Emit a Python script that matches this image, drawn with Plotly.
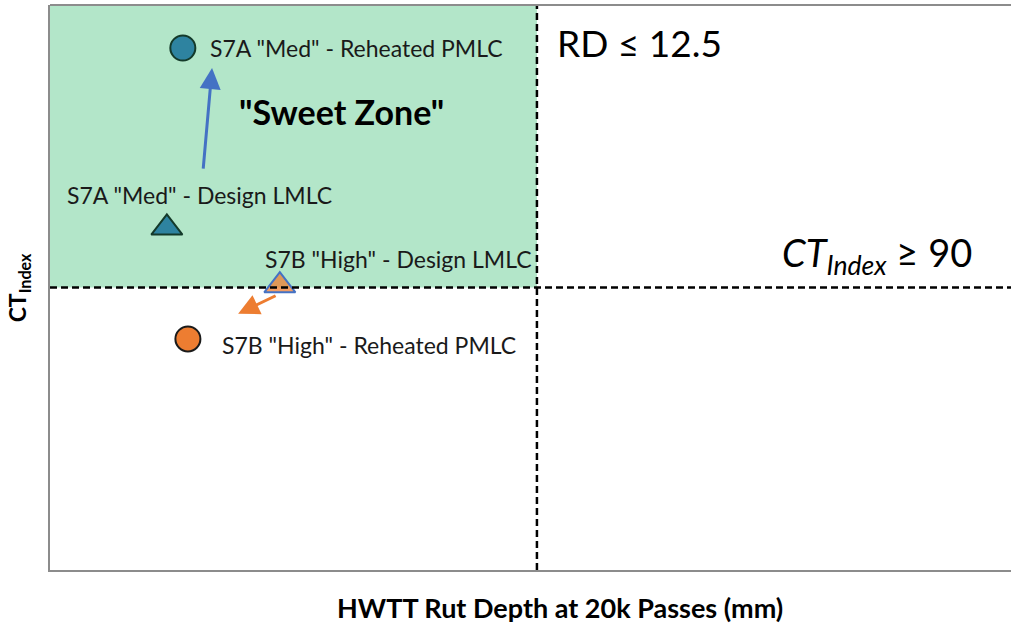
import plotly.graph_objects as go

# thresholds
rd_limit = 12.5
ct_limit = 90
x_range = [0, 24.67]
y_range = [0, 180]

# points
names = ['S7A "Med" - Reheated PMLC', 'S7A "Med" - Design LMLC',
         'S7B "High" - Design LMLC', 'S7B "High" - Reheated PMLC']
rut = [3.41, 3.0, 5.9, 3.54]
ct = [166.3, 109.0, 90.6, 73.6]
symbols = ['circle', 'triangle-up', 'triangle-up', 'circle']
fills = ['#2E83A0', '#2E83A0', 'rgba(237,125,49,0.75)', '#ED7D31']
edges = ['#143A2A', '#143A2A', '#4472C4', '#1A1A1A']

# label positions (text starts here)
label_x = [4.06, 0.39, 5.47, 4.36]
label_y = [166.3, 119.5, 99.1, 71.7]

# arrows: from design to reheated
arrow_tail_x = [3.93, 5.83]
arrow_tail_y = [127.4, 87.6]
arrow_head_x = [4.16, 4.83]
arrow_head_y = [159.9, 81.6]
arrow_colors = ['#4472C4', '#ED7D31']

fig = go.Figure()

fig.add_shape(type='rect', x0=x_range[0], x1=rd_limit, y0=ct_limit, y1=y_range[1],
              fillcolor='#B3E6C9', line_width=0, layer='below')
fig.add_shape(type='line', x0=rd_limit, x1=rd_limit, y0=y_range[0], y1=y_range[1],
              line=dict(color='black', width=2.5, dash='7px,4px'))
fig.add_shape(type='line', x0=x_range[0], x1=x_range[1], y0=ct_limit, y1=ct_limit,
              line=dict(color='black', width=2.5, dash='7px,4px'))
# top frame line only (no right border in the original)
fig.add_shape(type='line', xref='paper', yref='paper', x0=0, x1=1, y0=1, y1=1,
              line=dict(color='#8c8c8c', width=2))

for i in range(len(names)):
    fig.add_trace(go.Scatter(
        x=[rut[i]], y=[ct[i]], mode='markers', name=names[i],
        marker=dict(symbol=symbols[i], size=25 if symbols[i] == 'circle' else 27,
                    color=fills[i], line=dict(color=edges[i], width=2))))
    fig.add_annotation(x=label_x[i], y=label_y[i], text=names[i], showarrow=False,
                       xanchor='left', yanchor='middle',
                       font=dict(family='Lato', size=23, color='#1a1a1a'))

for i in range(len(arrow_colors)):
    fig.add_annotation(x=arrow_head_x[i], y=arrow_head_y[i], ax=arrow_tail_x[i], ay=arrow_tail_y[i],
                       xref='x', yref='y', axref='x', ayref='y', text='', showarrow=True,
                       arrowhead=2, arrowsize=1.4, arrowwidth=3, arrowcolor=arrow_colors[i])

fig.add_annotation(x=4.8, y=146.2, text='<b>"Sweet Zone"</b>', showarrow=False,
                   xanchor='left', font=dict(family='Lato', size=34, color='black'))
fig.add_annotation(x=12.96, y=167.9, text='RD ≤ 12.5', showarrow=False,
                   xanchor='left', font=dict(family='Lato', size=37, color='black'))
fig.add_annotation(x=18.74, y=100.4, text='<i>CT<sub>Index</sub></i> ≥ 90', showarrow=False,
                   xanchor='left', font=dict(family='Lato', size=38, color='black'))

# axis titles
fig.add_annotation(x=0.531, y=-0.066, xref='paper', yref='paper', showarrow=False,
                   xanchor='center', yanchor='middle',
                   text='<b>HWTT Rut Depth at 20k Passes (mm)</b>',
                   font=dict(family='Lato', size=27, color='black'))
fig.add_annotation(x=-0.033, y=0.499, xref='paper', yref='paper', showarrow=False,
                   xanchor='center', yanchor='middle',
                   textangle=-90, text='<b>CT<sub>Index</sub></b>',
                   font=dict(family='Lato', size=23, color='black'))

fig.update_layout(
    width=1011, height=624,
    margin=dict(l=50, r=0, t=5, b=54),
    plot_bgcolor='white', paper_bgcolor='white',
    showlegend=False,
    xaxis=dict(range=x_range, showgrid=False, zeroline=False, showticklabels=False,
               ticks='', showline=True, linecolor='#8c8c8c', linewidth=2),
    yaxis=dict(range=y_range, showgrid=False, zeroline=False, showticklabels=False,
               ticks='', showline=True, linecolor='#8c8c8c', linewidth=2),
)

fig.write_html("out.html", config={'displayModeBar': False},
               post_script="document.body.style.margin='0px';")
